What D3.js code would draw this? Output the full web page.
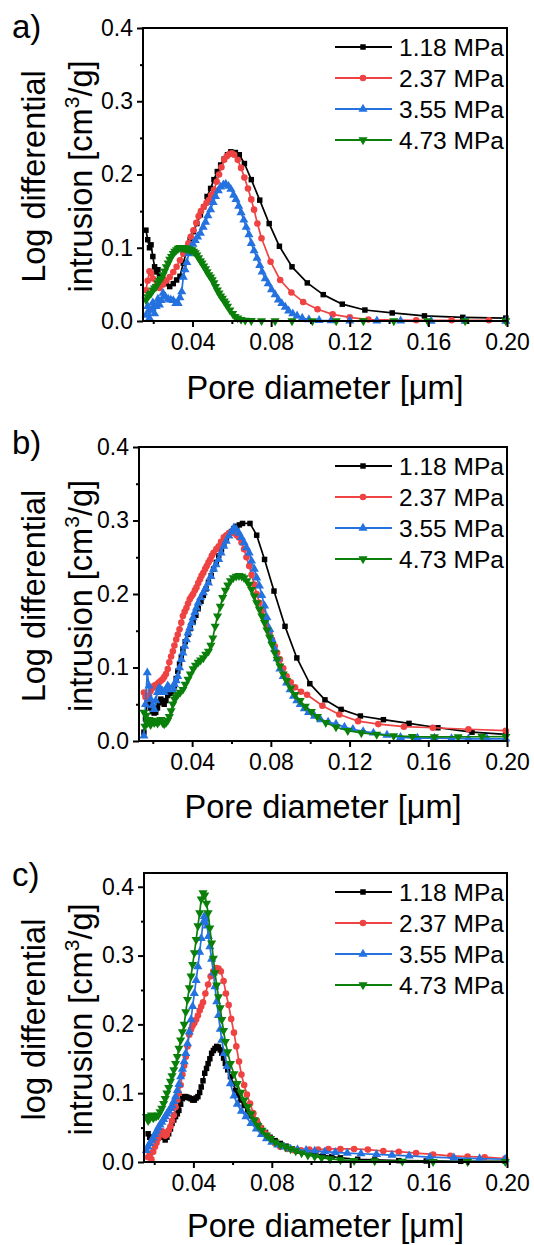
<!DOCTYPE html>
<html><head><meta charset="utf-8">
<script src="https://cdn.jsdelivr.net/npm/d3@7"></script>
<style>
body{margin:0;background:#fff}
svg{display:block}
text{font-family:"Liberation Sans",Arial,sans-serif;fill:#000}
</style>
</head><body><svg id="chart" width="534" height="1245"></svg>
<script>
// ---------------- data ----------------
const seriesNames = ["1.18 MPa","2.37 MPa","3.55 MPa","4.73 MPa"];
const seriesColors = ["#000000","#ef4343","#2472e0","#0a800a"];
const xTicks = [0.04,0.08,0.12,0.16,0.20];
const xMinor = [0.02,0.06,0.10,0.14,0.18];
const yTicks = [0,0.1,0.2,0.3,0.4];
const yMinor = [0.05,0.15,0.25,0.35];
const panelLabels = ["a)","b)","c)"];
const yTitles = ["Log differential","Log differential","log differential"];

// panel a
const a_118 = [[0.0163,0.124],[0.0172,0.111],[0.0181,0.100],[0.0189,0.104],[0.0198,0.088],[0.0207,0.074],[0.0215,0.067],[0.0224,0.070],[0.0232,0.061],[0.0250,0.056],[0.0267,0.051],[0.0284,0.047],[0.0302,0.051],[0.0319,0.056],[0.0336,0.061],[0.0353,0.079],[0.0371,0.097],[0.0388,0.111],[0.0405,0.122],[0.0422,0.133],[0.0440,0.145],[0.0457,0.156],[0.0474,0.170],[0.0492,0.181],[0.0509,0.193],[0.0526,0.204],[0.0543,0.213],[0.0561,0.221],[0.0578,0.227],[0.0595,0.231],[0.0618,0.230],[0.0638,0.227],[0.0664,0.215],[0.0699,0.193],[0.0742,0.165],[0.0790,0.133],[0.0842,0.102],[0.0906,0.074],[0.0984,0.052],[0.1065,0.036],[0.1162,0.023],[0.1277,0.015],[0.1416,0.011],[0.1580,0.007],[0.1775,0.005],[0.1994,0.004]];
const a_237 = [[0.0163,0.042],[0.0172,0.055],[0.0181,0.068],[0.0189,0.065],[0.0198,0.058],[0.0215,0.047],[0.0232,0.045],[0.0250,0.050],[0.0267,0.055],[0.0284,0.060],[0.0302,0.067],[0.0319,0.074],[0.0336,0.083],[0.0353,0.092],[0.0367,0.100],[0.0379,0.106],[0.0391,0.115],[0.0405,0.124],[0.0419,0.134],[0.0431,0.143],[0.0443,0.150],[0.0457,0.156],[0.0471,0.161],[0.0483,0.165],[0.0495,0.172],[0.0509,0.179],[0.0523,0.190],[0.0535,0.200],[0.0547,0.210],[0.0561,0.220],[0.0574,0.225],[0.0587,0.228],[0.0600,0.229],[0.0612,0.227],[0.0630,0.220],[0.0647,0.209],[0.0664,0.196],[0.0682,0.181],[0.0699,0.166],[0.0713,0.152],[0.0730,0.133],[0.0751,0.113],[0.0797,0.081],[0.0846,0.056],[0.0903,0.039],[0.0963,0.026],[0.1036,0.016],[0.1113,0.009],[0.1200,0.005],[0.1295,0.002],[0.1538,0.001],[0.1718,0.001],[0.1908,0.001]];
const a_355 = [[0.0163,0.008],[0.0172,0.020],[0.0181,0.004],[0.0189,0.015],[0.0198,0.025],[0.0207,0.010],[0.0215,0.020],[0.0224,0.030],[0.0232,0.022],[0.0241,0.028],[0.0250,0.038],[0.0262,0.033],[0.0276,0.030],[0.0289,0.029],[0.0302,0.028],[0.0315,0.024],[0.0327,0.024],[0.0336,0.032],[0.0345,0.040],[0.0353,0.060],[0.0362,0.070],[0.0371,0.080],[0.0381,0.092],[0.0391,0.100],[0.0402,0.105],[0.0414,0.110],[0.0426,0.115],[0.0440,0.120],[0.0454,0.128],[0.0466,0.135],[0.0478,0.144],[0.0492,0.152],[0.0505,0.162],[0.0517,0.170],[0.0531,0.178],[0.0543,0.183],[0.0557,0.186],[0.0569,0.187],[0.0583,0.184],[0.0595,0.180],[0.0609,0.172],[0.0621,0.166],[0.0635,0.157],[0.0647,0.148],[0.0661,0.138],[0.0673,0.128],[0.0687,0.118],[0.0699,0.106],[0.0713,0.096],[0.0728,0.086],[0.0742,0.076],[0.0754,0.067],[0.0770,0.058],[0.0785,0.051],[0.0802,0.043],[0.0820,0.036],[0.0837,0.029],[0.0854,0.024],[0.0872,0.019],[0.0889,0.014],[0.0910,0.010],[0.0932,0.007],[0.0958,0.004],[0.0992,0.002],[0.1044,0.001],[0.1105,0.0005],[0.1200,0.0003],[0.1338,0.0002],[0.1459,0.0002],[0.1614,0],[0.1787,0],[0.1994,0]];
const a_473 = [[0.0163,0.029],[0.0172,0.033],[0.0181,0.036],[0.0189,0.038],[0.0198,0.042],[0.0207,0.045],[0.0215,0.047],[0.0224,0.052],[0.0232,0.055],[0.0241,0.058],[0.0250,0.063],[0.0258,0.068],[0.0267,0.074],[0.0276,0.079],[0.0284,0.084],[0.0293,0.088],[0.0302,0.092],[0.0310,0.095],[0.0319,0.097],[0.0327,0.099],[0.0336,0.100],[0.0345,0.100],[0.0353,0.100],[0.0362,0.099],[0.0371,0.099],[0.0379,0.098],[0.0388,0.097],[0.0397,0.097],[0.0405,0.095],[0.0414,0.093],[0.0422,0.090],[0.0431,0.086],[0.0440,0.082],[0.0448,0.079],[0.0457,0.075],[0.0466,0.071],[0.0474,0.067],[0.0483,0.063],[0.0492,0.060],[0.0500,0.056],[0.0509,0.052],[0.0517,0.047],[0.0526,0.042],[0.0535,0.038],[0.0543,0.034],[0.0552,0.031],[0.0561,0.027],[0.0569,0.024],[0.0578,0.020],[0.0590,0.015],[0.0604,0.010],[0.0616,0.006],[0.0630,0.004],[0.0647,0.002],[0.0668,0.001],[0.0699,0.0005],[0.0751,0.0003],[0.0820,0],[0.0906,0],[0.1010,0],[0.1131,0],[0.1269,0],[0.1424,0],[0.1597,0],[0.1787,0],[0.1994,0]];

// panel b
const b_118 = [[0.0155,0.012],[0.0163,0.030],[0.0172,0.055],[0.0181,0.050],[0.0189,0.045],[0.0198,0.040],[0.0207,0.038],[0.0215,0.039],[0.0224,0.045],[0.0232,0.052],[0.0241,0.057],[0.0250,0.054],[0.0258,0.050],[0.0267,0.055],[0.0276,0.062],[0.0284,0.068],[0.0293,0.065],[0.0302,0.070],[0.0310,0.075],[0.0319,0.085],[0.0327,0.095],[0.0336,0.105],[0.0345,0.114],[0.0353,0.125],[0.0365,0.135],[0.0379,0.145],[0.0391,0.153],[0.0405,0.162],[0.0419,0.171],[0.0431,0.180],[0.0445,0.190],[0.0457,0.198],[0.0471,0.207],[0.0483,0.216],[0.0497,0.225],[0.0509,0.234],[0.0523,0.243],[0.0535,0.252],[0.0549,0.260],[0.0561,0.267],[0.0574,0.274],[0.0587,0.280],[0.0600,0.285],[0.0612,0.289],[0.0626,0.292],[0.0640,0.294],[0.0656,0.296],[0.0694,0.296],[0.0728,0.280],[0.0768,0.247],[0.0816,0.204],[0.0872,0.156],[0.0932,0.113],[0.0998,0.078],[0.1075,0.056],[0.1157,0.043],[0.1255,0.034],[0.1372,0.029],[0.1502,0.024],[0.1649,0.018],[0.1822,0.012],[0.1994,0.009]];
const b_237 = [[0.0155,0.066],[0.0163,0.060],[0.0172,0.057],[0.0181,0.062],[0.0189,0.068],[0.0198,0.072],[0.0207,0.075],[0.0215,0.076],[0.0224,0.078],[0.0232,0.080],[0.0241,0.082],[0.0250,0.084],[0.0258,0.087],[0.0267,0.091],[0.0276,0.098],[0.0284,0.107],[0.0293,0.115],[0.0302,0.122],[0.0310,0.130],[0.0319,0.138],[0.0327,0.145],[0.0336,0.152],[0.0345,0.161],[0.0353,0.170],[0.0362,0.176],[0.0371,0.181],[0.0379,0.187],[0.0388,0.193],[0.0397,0.197],[0.0405,0.200],[0.0414,0.205],[0.0422,0.209],[0.0431,0.215],[0.0440,0.220],[0.0448,0.225],[0.0457,0.229],[0.0466,0.234],[0.0474,0.238],[0.0483,0.243],[0.0492,0.247],[0.0500,0.252],[0.0509,0.256],[0.0523,0.261],[0.0535,0.265],[0.0547,0.271],[0.0561,0.277],[0.0574,0.280],[0.0587,0.283],[0.0600,0.284],[0.0612,0.283],[0.0626,0.280],[0.0638,0.277],[0.0651,0.270],[0.0664,0.261],[0.0676,0.250],[0.0690,0.238],[0.0702,0.226],[0.0716,0.213],[0.0728,0.200],[0.0742,0.188],[0.0754,0.177],[0.0768,0.166],[0.0780,0.156],[0.0794,0.147],[0.0806,0.138],[0.0820,0.129],[0.0832,0.120],[0.0846,0.111],[0.0863,0.099],[0.0880,0.088],[0.0901,0.080],[0.0923,0.073],[0.0953,0.067],[0.0984,0.063],[0.1062,0.048],[0.1148,0.036],[0.1243,0.027],[0.1346,0.023],[0.1476,0.0195],[0.1623,0.018],[0.1804,0.016],[0.1994,0.014]];
const b_355 = [[0.0155,0.007],[0.0163,0.050],[0.0172,0.093],[0.0181,0.075],[0.0189,0.057],[0.0198,0.048],[0.0207,0.043],[0.0215,0.055],[0.0224,0.066],[0.0232,0.072],[0.0241,0.070],[0.0250,0.068],[0.0258,0.066],[0.0267,0.070],[0.0276,0.075],[0.0284,0.072],[0.0293,0.070],[0.0302,0.072],[0.0310,0.077],[0.0319,0.082],[0.0327,0.088],[0.0336,0.100],[0.0345,0.111],[0.0353,0.120],[0.0362,0.129],[0.0371,0.138],[0.0379,0.147],[0.0388,0.154],[0.0397,0.161],[0.0405,0.168],[0.0414,0.175],[0.0422,0.181],[0.0431,0.188],[0.0443,0.195],[0.0457,0.202],[0.0469,0.208],[0.0483,0.215],[0.0495,0.224],[0.0509,0.234],[0.0521,0.240],[0.0535,0.247],[0.0547,0.256],[0.0561,0.265],[0.0573,0.272],[0.0587,0.279],[0.0600,0.285],[0.0612,0.290],[0.0624,0.288],[0.0638,0.283],[0.0650,0.277],[0.0664,0.270],[0.0676,0.263],[0.0690,0.256],[0.0702,0.245],[0.0716,0.234],[0.0728,0.222],[0.0742,0.211],[0.0754,0.198],[0.0768,0.184],[0.0780,0.168],[0.0794,0.152],[0.0806,0.138],[0.0820,0.125],[0.0832,0.112],[0.0846,0.098],[0.0863,0.088],[0.0880,0.079],[0.0898,0.070],[0.0915,0.061],[0.0932,0.055],[0.0949,0.050],[0.0970,0.044],[0.0992,0.039],[0.1022,0.034],[0.1053,0.029],[0.1091,0.026],[0.1131,0.023],[0.1174,0.019],[0.1217,0.016],[0.1269,0.013],[0.1321,0.011],[0.1390,0.008],[0.1459,0.005],[0.1545,0.004],[0.1631,0.004],[0.1718,0.0035],[0.1804,0.003],[0.1899,0.003],[0.1994,0.003]];
const b_473 = [[0.0155,0.039],[0.0160,0.020],[0.0167,0.035],[0.0174,0.025],[0.0181,0.029],[0.0189,0.022],[0.0198,0.028],[0.0207,0.025],[0.0215,0.027],[0.0224,0.024],[0.0232,0.027],[0.0241,0.029],[0.0250,0.025],[0.0258,0.023],[0.0267,0.025],[0.0276,0.028],[0.0284,0.033],[0.0293,0.041],[0.0302,0.050],[0.0310,0.057],[0.0319,0.060],[0.0327,0.063],[0.0339,0.066],[0.0353,0.070],[0.0365,0.077],[0.0379,0.084],[0.0391,0.091],[0.0405,0.098],[0.0417,0.103],[0.0431,0.107],[0.0443,0.110],[0.0457,0.113],[0.0469,0.118],[0.0483,0.122],[0.0495,0.130],[0.0505,0.140],[0.0517,0.156],[0.0529,0.170],[0.0543,0.183],[0.0555,0.195],[0.0569,0.205],[0.0581,0.212],[0.0595,0.218],[0.0609,0.222],[0.0624,0.224],[0.0638,0.225],[0.0652,0.224],[0.0664,0.222],[0.0678,0.218],[0.0690,0.213],[0.0702,0.206],[0.0716,0.197],[0.0728,0.188],[0.0742,0.179],[0.0754,0.170],[0.0768,0.161],[0.0780,0.151],[0.0794,0.141],[0.0806,0.131],[0.0820,0.120],[0.0832,0.111],[0.0846,0.102],[0.0863,0.091],[0.0880,0.082],[0.0901,0.072],[0.0923,0.063],[0.0949,0.055],[0.0975,0.047],[0.1006,0.040],[0.1036,0.033],[0.1079,0.025],[0.1131,0.019],[0.1191,0.014],[0.1260,0.011],[0.1338,0.009],[0.1424,0.007],[0.1519,0.006],[0.1631,0.0055],[0.1752,0.0055],[0.1873,0.0058],[0.1994,0.006]];

// panel c
const c_118 = [[0.0169,0.041],[0.0177,0.036],[0.0186,0.032],[0.0198,0.036],[0.0212,0.034],[0.0225,0.038],[0.0239,0.041],[0.0248,0.036],[0.0256,0.032],[0.0265,0.036],[0.0274,0.041],[0.0283,0.048],[0.0291,0.056],[0.0300,0.061],[0.0309,0.066],[0.0318,0.070],[0.0326,0.075],[0.0335,0.084],[0.0344,0.092],[0.0353,0.095],[0.0361,0.095],[0.0370,0.094],[0.0379,0.093],[0.0388,0.092],[0.0396,0.090],[0.0405,0.090],[0.0414,0.093],[0.0423,0.095],[0.0432,0.101],[0.0440,0.109],[0.0449,0.118],[0.0458,0.129],[0.0467,0.136],[0.0475,0.143],[0.0484,0.150],[0.0493,0.158],[0.0502,0.162],[0.0510,0.165],[0.0519,0.168],[0.0528,0.167],[0.0537,0.163],[0.0545,0.158],[0.0554,0.151],[0.0563,0.143],[0.0575,0.134],[0.0589,0.124],[0.0603,0.114],[0.0616,0.104],[0.0630,0.097],[0.0642,0.090],[0.0659,0.082],[0.0677,0.073],[0.0694,0.067],[0.0712,0.061],[0.0729,0.055],[0.0747,0.049],[0.0768,0.043],[0.0791,0.036],[0.0817,0.031],[0.0843,0.027],[0.0873,0.023],[0.0905,0.019],[0.0940,0.016],[0.0975,0.0146],[0.1019,0.012],[0.1062,0.0097],[0.1106,0.008],[0.1150,0.006],[0.1238,0.004],[0.1325,0.003],[0.1448,0.002],[0.1588,0.0015],[0.1764,0.001],[0.1991,0.001]];
const c_237 = [[0.0169,0.007],[0.0177,0.012],[0.0186,0.004],[0.0195,0.015],[0.0204,0.022],[0.0212,0.028],[0.0221,0.034],[0.0230,0.040],[0.0239,0.045],[0.0248,0.043],[0.0256,0.038],[0.0265,0.040],[0.0274,0.046],[0.0283,0.052],[0.0291,0.060],[0.0300,0.068],[0.0309,0.080],[0.0318,0.090],[0.0326,0.100],[0.0335,0.112],[0.0344,0.127],[0.0353,0.140],[0.0361,0.153],[0.0370,0.168],[0.0379,0.185],[0.0388,0.193],[0.0396,0.198],[0.0405,0.202],[0.0414,0.207],[0.0423,0.213],[0.0432,0.220],[0.0440,0.226],[0.0449,0.232],[0.0461,0.245],[0.0475,0.258],[0.0488,0.270],[0.0502,0.277],[0.0516,0.282],[0.0528,0.281],[0.0540,0.277],[0.0554,0.263],[0.0566,0.245],[0.0580,0.228],[0.0593,0.208],[0.0607,0.188],[0.0619,0.168],[0.0633,0.146],[0.0645,0.127],[0.0659,0.112],[0.0673,0.098],[0.0689,0.085],[0.0706,0.071],[0.0724,0.060],[0.0743,0.050],[0.0765,0.042],[0.0791,0.034],[0.0817,0.027],[0.0843,0.022],[0.0878,0.019],[0.0913,0.017],[0.0949,0.017],[0.0992,0.018],[0.1036,0.018],[0.1089,0.019],[0.1150,0.019],[0.1220,0.019],[0.1290,0.018],[0.1369,0.016],[0.1448,0.015],[0.1536,0.013],[0.1623,0.011],[0.1711,0.009],[0.1799,0.008],[0.1886,0.007],[0.1991,0.005]];
const c_355 = [[0.0160,0.017],[0.0169,0.022],[0.0177,0.027],[0.0186,0.031],[0.0195,0.035],[0.0204,0.040],[0.0212,0.045],[0.0221,0.050],[0.0230,0.054],[0.0239,0.058],[0.0248,0.062],[0.0256,0.066],[0.0265,0.070],[0.0274,0.074],[0.0283,0.078],[0.0291,0.082],[0.0300,0.088],[0.0309,0.095],[0.0318,0.104],[0.0326,0.113],[0.0335,0.124],[0.0344,0.135],[0.0353,0.146],[0.0361,0.158],[0.0370,0.172],[0.0379,0.189],[0.0388,0.207],[0.0396,0.226],[0.0405,0.245],[0.0414,0.264],[0.0423,0.284],[0.0432,0.305],[0.0440,0.325],[0.0449,0.348],[0.0456,0.357],[0.0463,0.353],[0.0470,0.343],[0.0477,0.328],[0.0484,0.313],[0.0493,0.295],[0.0502,0.275],[0.0510,0.255],[0.0519,0.233],[0.0528,0.213],[0.0537,0.193],[0.0545,0.177],[0.0557,0.158],[0.0572,0.139],[0.0589,0.114],[0.0607,0.096],[0.0624,0.084],[0.0645,0.074],[0.0668,0.066],[0.0694,0.056],[0.0721,0.048],[0.0747,0.040],[0.0773,0.034],[0.0800,0.029],[0.0831,0.025],[0.0861,0.022],[0.0896,0.019],[0.0931,0.018],[0.0975,0.017],[0.1019,0.016],[0.1071,0.015],[0.1124,0.014],[0.1185,0.013],[0.1255,0.012],[0.1334,0.011],[0.1413,0.010],[0.1501,0.009],[0.1606,0.007],[0.1729,0.006],[0.1860,0.005],[0.1991,0.004]];
const c_473 = [[0.0160,0.066],[0.0169,0.060],[0.0177,0.063],[0.0186,0.068],[0.0195,0.064],[0.0204,0.066],[0.0212,0.067],[0.0221,0.068],[0.0230,0.073],[0.0239,0.078],[0.0248,0.085],[0.0256,0.092],[0.0265,0.100],[0.0274,0.108],[0.0283,0.117],[0.0291,0.125],[0.0300,0.134],[0.0309,0.143],[0.0318,0.153],[0.0326,0.165],[0.0335,0.177],[0.0344,0.189],[0.0353,0.200],[0.0361,0.218],[0.0370,0.236],[0.0379,0.253],[0.0388,0.270],[0.0396,0.287],[0.0405,0.304],[0.0414,0.323],[0.0423,0.343],[0.0432,0.362],[0.0440,0.382],[0.0449,0.391],[0.0458,0.388],[0.0467,0.376],[0.0475,0.362],[0.0484,0.340],[0.0493,0.318],[0.0502,0.296],[0.0510,0.275],[0.0519,0.257],[0.0528,0.240],[0.0537,0.224],[0.0545,0.207],[0.0554,0.191],[0.0563,0.175],[0.0575,0.160],[0.0589,0.143],[0.0607,0.128],[0.0624,0.114],[0.0642,0.101],[0.0659,0.090],[0.0677,0.080],[0.0694,0.070],[0.0712,0.061],[0.0729,0.053],[0.0750,0.046],[0.0773,0.039],[0.0794,0.034],[0.0817,0.029],[0.0843,0.025],[0.0870,0.022],[0.0896,0.019],[0.0922,0.016],[0.0952,0.013],[0.0984,0.010],[0.1019,0.008],[0.1054,0.006],[0.1097,0.0045],[0.1150,0.003],[0.1220,0.002],[0.1325,0.0015],[0.1466,0.001],[0.1623,0.0005],[0.1799,0.0005],[0.1991,0.0005]];

const panelData = [[a_118,a_237,a_355,a_473],[b_118,b_237,b_355,b_473],[c_118,c_237,c_355,c_473]];

// ---------------- layout ----------------
const layout = [
  {left:143, right:507, top:28,  bottom:321,  xMin:0.0148, yMax:0.40, letterY:38, titleY:399},
  {left:139, right:507, top:447, bottom:741,  xMin:0.0130, yMax:0.40, letterY:454, titleY:818},
  {left:144, right:507, top:873, bottom:1162, xMin:0.0148, yMax:0.42, letterY:886, titleY:1237}
];

const svg = d3.select("#chart");
const symbols = [
  d3.symbol().type(d3.symbolSquare).size(30),
  d3.symbol().type(d3.symbolCircle).size(34),
  d3.symbol().type(d3.symbolTriangle).size(36),
  d3.symbol().type(d3.symbolTriangle).size(36)
];
const symRot = [0,0,0,180];

layout.forEach((L, p) => {
  const x = d3.scaleLinear().domain([L.xMin, 0.2]).range([L.left, L.right]);
  const y = d3.scaleLinear().domain([0, L.yMax]).range([L.bottom, L.top]);
  const g = svg.append("g");

  // series
  panelData[p].forEach((data, s) => {
    const sg = g.append("g");
    sg.append("path").datum(data)
      .attr("fill","none").attr("stroke",seriesColors[s]).attr("stroke-width",1.7)
      .attr("stroke-linejoin","round")
      .attr("d", d3.line().x(d=>x(d[0])).y(d=>y(d[1])));
    sg.selectAll("path.m").data(data).join("path").attr("class","m")
      .attr("d", symbols[s]).attr("fill",seriesColors[s])
      .attr("transform", d=>`translate(${x(d[0])},${y(d[1])}) rotate(${symRot[s]})`);
  });

  // axes
  const xAx = g.append("g").attr("transform",`translate(0,${L.bottom})`)
    .call(d3.axisBottom(x).tickValues(xTicks).tickFormat(d3.format(".2f")).tickSize(6).tickPadding(7));
  const xAxMin = g.append("g").attr("transform",`translate(0,${L.bottom})`)
    .call(d3.axisBottom(x).tickValues(xMinor).tickFormat("").tickSize(3));
  const yAx = g.append("g").attr("transform",`translate(${L.left},0)`)
    .call(d3.axisLeft(y).tickValues(yTicks).tickFormat(d3.format(".1f")).tickSize(6).tickPadding(4));
  const yAxMin = g.append("g").attr("transform",`translate(${L.left},0)`)
    .call(d3.axisLeft(y).tickValues(yMinor).tickFormat("").tickSize(3));
  [xAx,xAxMin,yAx,yAxMin].forEach(a=>{
    a.select(".domain").remove();
    a.selectAll("line").attr("stroke","#000").attr("stroke-width",2);
    a.selectAll("text").attr("font-size",23).attr("font-family","Liberation Sans, Arial, sans-serif").attr("fill","#000");
  });

  // frame
  g.append("rect").attr("x",L.left).attr("y",L.top)
    .attr("width",L.right-L.left).attr("height",L.bottom-L.top)
    .attr("fill","none").attr("stroke","#000").attr("stroke-width",2);

  // x title
  g.append("text").attr("x",(L.left+L.right)/2).attr("y",L.titleY)
    .attr("text-anchor","middle").attr("font-size",32.5).text("Pore diameter [μm]");

  // y title
  const cy = (L.top+L.bottom)/2 + 2;
  g.append("text").attr("transform",`translate(45,${cy}) rotate(-90)`)
    .attr("text-anchor","middle").attr("font-size",32.5).text(yTitles[p]);
  const t2 = g.append("text").attr("transform",`translate(92,${cy}) rotate(-90)`)
    .attr("text-anchor","middle").attr("font-size",32.5);
  t2.append("tspan").text("intrusion [cm");
  t2.append("tspan").attr("font-size",21).attr("dy",-13).text("3");
  t2.append("tspan").attr("dy",13).text("/g]");

  // panel letter
  g.append("text").attr("x",12).attr("y",L.letterY).attr("font-size",33).text(panelLabels[p]);

  // legend
  const lg = g.append("g");
  seriesNames.forEach((name, s) => {
    const ly = L.top + 19 + s*31;
    lg.append("line").attr("x1",335).attr("x2",392).attr("y1",ly).attr("y2",ly)
      .attr("stroke",seriesColors[s]).attr("stroke-width",1.8);
    lg.append("path").attr("d",symbols[s]).attr("fill",seriesColors[s])
      .attr("transform",`translate(363,${ly}) rotate(${symRot[s]})`);
    lg.append("text").attr("x",399).attr("y",ly+8.8).attr("font-size",24.5).text(name);
  });
});
</script>
</body></html>
